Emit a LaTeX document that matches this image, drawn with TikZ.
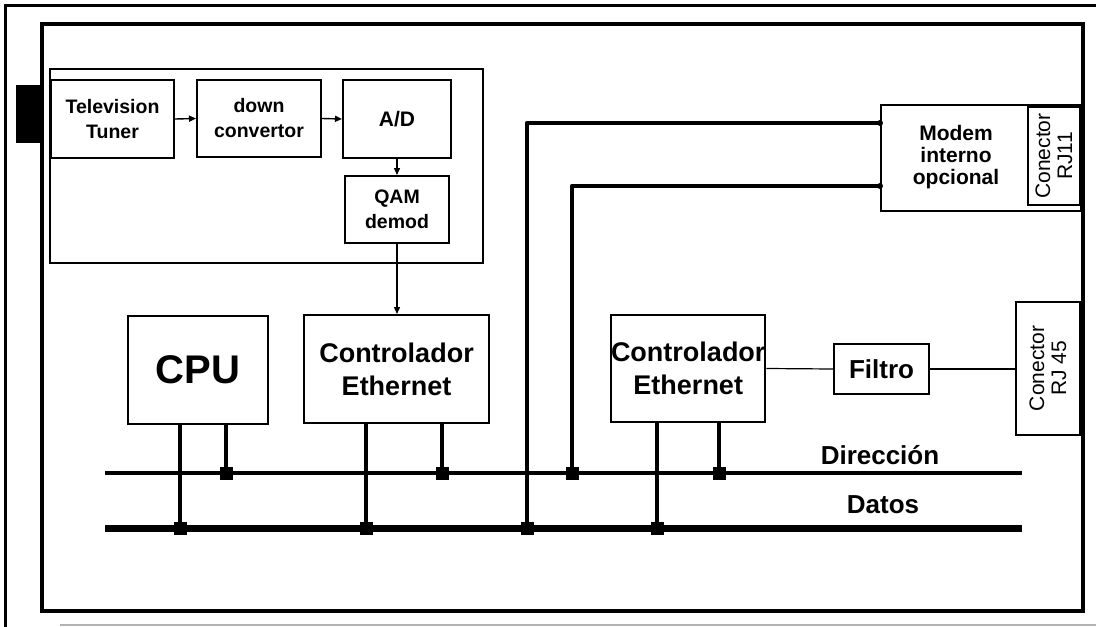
\documentclass[tikz,border=0pt]{standalone}
\usepackage{fontspec}
\setmainfont{Liberation Sans}
\usetikzlibrary{arrows.meta}
\begin{document}
\begin{tikzpicture}[x=1pt,y=-1pt,
  box/.style={draw, line width=2pt, align=center, inner sep=0pt, anchor=north west},
  fsmall/.style={font=\bfseries\fontsize{19.5}{25}\selectfont},
  fctrl/.style={font=\bfseries\fontsize{27}{33}\selectfont},
  flabel/.style={font=\bfseries\fontsize{26}{30}\selectfont},
  conbox/.style={draw, line width=1.3pt, align=center, inner sep=0pt, rotate=90,
    font=\fontsize{21}{22}\selectfont},
  bus/.style={line width=#1},
  tap/.style={line width=4.8pt},
  junc/.style={fill, minimum size=13pt, inner sep=0pt},
  sig/.style={line width=1.4pt, -{Triangle[length=7pt,width=6pt]}},
  thinline/.style={line width=1.2pt}]
\useasboundingbox (0,0) rectangle (1096,627);
\fill[white] (0,0) rectangle (1096,627);
% frames
\draw[line width=3pt] (5,627) -- (5,5) -- (1096,5);
\draw[line width=1.5pt, gray!60] (60,625) -- (1096,625);
\draw[line width=4.8pt] (42,24) rectangle (1083,611);
\fill (16,85) rectangle (40,143);
% TV subsystem
\draw[line width=1.3pt] (50,69) rectangle (483,263);
\node[box, fsmall, minimum width=123pt, minimum height=78pt] (tuner) at (50,79) {Television\\Tuner};
\node[box, fsmall, minimum width=124pt, minimum height=77pt] (down) at (196,79) {down\\convertor};
\node[box, font=\bfseries\fontsize{21}{24}\selectfont, minimum width=108pt, minimum height=78pt] (ad) at (342,79) {A/D};
\node[box, fsmall, minimum width=104pt, minimum height=67pt] (qam) at (344,175) {QAM\\demod};
% main boxes
\node[box, font=\bfseries\fontsize{40}{44}\selectfont, minimum width=140pt, minimum height=108pt] (cpu) at (127,315) {CPU};
\node[box, fctrl, minimum width=185pt, minimum height=108pt] (ctrlA) at (303,314) {Controlador\\Ethernet};
\node[box, fctrl, minimum width=151pt, minimum height=107pt] (ctrlB) at (610,314) {Controlador\\Ethernet};
\node[box, flabel, minimum width=95pt, minimum height=50pt] (filtro) at (833,343) {Filtro};
\node[conbox, minimum width=133pt, minimum height=64pt] (rj45) at (1048,368.5) {Conector\\RJ 45};
\node[box, line width=1.5pt, minimum width=200pt, minimum height=106pt] (modem) at (880,104) {};
\node[font=\bfseries\fontsize{21}{22}\selectfont, align=center] (modemtxt) at (956,157) {Modem\\interno\\opcional};
\node[conbox, minimum width=98pt, minimum height=52pt] (rj11) at (1054,156) {Conector\\RJ11};
% signal arrows
\draw[sig] (tuner.east) -- (down.west);
\draw[sig] (down.east) -- (ad.west);
\draw[sig] (ad.south) -- (qam.north);
\draw[sig] (qam.south) -- (qam.south |- ctrlA.north);
% buses
\coordinate (dirL) at (105,473); \coordinate (dirR) at (1022,473);
\coordinate (datL) at (105,528); \coordinate (datR) at (1022,528);
\draw[bus=3.8pt] (dirL) -- (dirR);
\draw[bus=7pt] (datL) -- (datR);
\node[flabel] (ldir) at (880,455) {Dirección};
\node[flabel] (ldat) at (883,505) {Datos};
% junctions
\coordinate (j1) at (180,528); \coordinate (j2) at (226,473);
\coordinate (j3) at (366,528); \coordinate (j4) at (442,473);
\coordinate (j5) at (527,528); \coordinate (j6) at (572,473);
\coordinate (j7) at (657,528); \coordinate (j8) at (719,473);
\draw[tap] (cpu.south -| j1) -- (j1);
\draw[tap] (cpu.south -| j2) -- (j2);
\draw[tap] (ctrlA.south -| j3) -- (j3);
\draw[tap] (ctrlA.south -| j4) -- (j4);
\draw[tap] (ctrlB.south -| j7) -- (j7);
\draw[tap] (ctrlB.south -| j8) -- (j8);
\coordinate (mA) at (880,123); \coordinate (mB) at (880,186);
\draw[tap, line join=round] (mA) -| (j5);
\draw[tap, line join=round] (mB) -| (j6);
\fill (mA) circle (3pt); \fill (mB) circle (3pt);
\foreach \j in {j1,j2,j3,j4,j5,j6,j7,j8} \node[junc] at (\j) {};
% filter chain
\draw[thinline] (ctrlB.east) -- (filtro.west);
\draw[thinline] (filtro.east) -- (filtro.east -| rj45.north);
\end{tikzpicture}
\end{document}
